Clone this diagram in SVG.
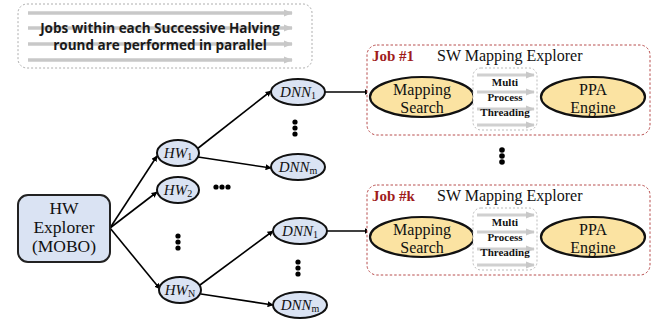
<svg xmlns="http://www.w3.org/2000/svg" width="667" height="322" viewBox="0 0 667 322">
  <defs>
    <marker id="arr" viewBox="0 0 10 10" refX="9" refY="5" markerWidth="6" markerHeight="6" markerUnits="userSpaceOnUse" orient="auto">
      <path d="M0,0 L10,5 L0,10 z" fill="#000"/>
    </marker>
    <marker id="garr" viewBox="0 0 10 10" refX="9" refY="5" markerWidth="9" markerHeight="9" markerUnits="userSpaceOnUse" orient="auto">
      <path d="M0,1 L10,5 L0,9 z" fill="#c8c8c8"/>
    </marker>
  </defs>
  <style>
    .note { fill: #fff; stroke: #999; stroke-width: 0.8; stroke-dasharray: 2 2; }
    .garrow { stroke: #c8c8c8; stroke-width: 3.5; marker-end: url(#garr); }
    .notetxt { font-family: "Open Sans", "Liberation Sans", sans-serif; font-weight: bold; font-size: 13.5px; fill: #1a1a1a; text-anchor: middle; }
    .hwbox { fill: #dae3f3; stroke: #222; stroke-width: 2; }
    .serif { font-family: "Liberation Serif", "DejaVu Serif", serif; fill: #111; text-anchor: middle; font-size: 17.5px; }
    .node { fill: #dae3f3; stroke: #111; stroke-width: 2; }
    .math { font-family: "Liberation Serif", "DejaVu Serif", serif; font-style: italic; font-size: 15px; fill: #111; text-anchor: middle; }
    .sub { font-style: normal; font-size: 10px; }
    .edge { stroke: #000; stroke-width: 1.6; fill: none; marker-end: url(#arr); }
    .job { fill: #fff; stroke: #b03a3a; stroke-width: 0.9; stroke-dasharray: 2.5 2; }
    .jobid { font-family: "Liberation Serif", serif; font-weight: bold; font-size: 15px; fill: #a01c1c; }
    .title { font-family: "Liberation Serif", serif; font-size: 16px; fill: #111; }
    .gold { fill: #fbe3a2; stroke: #111; stroke-width: 2.2; }
    .big { font-family: "Liberation Serif", serif; font-size: 16px; fill: #111; text-anchor: middle; }
    .mpt { fill: #fff; stroke: #aaa; stroke-width: 0.8; stroke-dasharray: 2 2; }
    .marrow { stroke: #d0d0d0; stroke-width: 3; marker-end: url(#garr); }
    .mtxt { font-family: "Liberation Serif", serif; font-weight: bold; font-size: 11px; fill: #111; text-anchor: middle; }
    .dot { fill: #000; }
  </style>

  <!-- legend note: parallel jobs -->
  <g id="note">
    <rect class="note" x="18" y="4" width="294" height="64" rx="9"/>
    <line class="garrow" x1="28" y1="13" x2="292" y2="13"/>
    <line class="garrow" x1="28" y1="28" x2="292" y2="28"/>
    <line class="garrow" x1="28" y1="44" x2="292" y2="44"/>
    <line class="garrow" x1="28" y1="60" x2="292" y2="60"/>
    <text class="notetxt" x="160" y="33">Jobs within each Successive Halving</text>
    <text class="notetxt" x="160" y="50">round are performed in parallel</text>
  </g>

  <!-- connectors -->
  <g id="connectors">
    <line class="edge" x1="110" y1="228" x2="157" y2="156"/>
    <line class="edge" x1="110" y1="228" x2="157" y2="192"/>
    <line class="edge" x1="110" y1="228" x2="160" y2="289"/>
    <line class="edge" x1="197" y1="149" x2="271" y2="91"/>
    <line class="edge" x1="198" y1="157" x2="271" y2="168"/>
    <line class="edge" x1="200" y1="285" x2="273" y2="231"/>
    <line class="edge" x1="201" y1="294" x2="273" y2="305"/>
    <line class="edge" x1="325" y1="92" x2="370" y2="92"/>
    <line class="edge" x1="327" y1="231" x2="370" y2="231"/>
  </g>

  <g id="hw-explorer">
    <rect class="hwbox" x="18" y="195" width="92" height="67" rx="10"/>
    <text class="serif" x="64" y="214">HW</text>
    <text class="serif" x="64" y="233">Explorer</text>
    <text class="serif" x="64" y="252">(MOBO)</text>
  </g>

  <g id="hw1">
    <ellipse class="node" cx="178" cy="153" rx="21" ry="13"/>
    <text class="math" x="178" y="158">HW<tspan class="sub" dy="2">1</tspan></text>
  </g>
  <g id="hw2">
    <ellipse class="node" cx="178" cy="190" rx="21" ry="13"/>
    <text class="math" x="178" y="195">HW<tspan class="sub" dy="2">2</tspan></text>
  </g>
  <g id="hwN">
    <ellipse class="node" cx="180" cy="290" rx="21" ry="13"/>
    <text class="math" x="180" y="295">HW<tspan class="sub" dy="2" font-style="italic">N</tspan></text>
  </g>

  <g id="dnn1-a">
    <ellipse class="node" cx="298" cy="92" rx="27" ry="13"/>
    <text class="math" x="298" y="97">DNN<tspan class="sub" dy="2">1</tspan></text>
  </g>
  <g id="dnnm-a">
    <ellipse class="node" cx="298" cy="167" rx="27" ry="13"/>
    <text class="math" x="298" y="172">DNN<tspan class="sub" dy="2" font-style="italic">m</tspan></text>
  </g>
  <g id="dnn1-b">
    <ellipse class="node" cx="300" cy="231" rx="27" ry="13"/>
    <text class="math" x="300" y="236">DNN<tspan class="sub" dy="2">1</tspan></text>
  </g>
  <g id="dnnm-b">
    <ellipse class="node" cx="300" cy="305" rx="27" ry="13"/>
    <text class="math" x="300" y="310">DNN<tspan class="sub" dy="2" font-style="italic">m</tspan></text>
  </g>

  <!-- ellipsis dots -->
  <g id="ellipses">
    <circle class="dot" cx="295" cy="122" r="2.6"/>
    <circle class="dot" cx="295" cy="128" r="2.6"/>
    <circle class="dot" cx="295" cy="134" r="2.6"/>
    <circle class="dot" cx="216" cy="187" r="2.6"/>
    <circle class="dot" cx="222" cy="187" r="2.6"/>
    <circle class="dot" cx="228" cy="187" r="2.6"/>
    <circle class="dot" cx="178" cy="236" r="2.6"/>
    <circle class="dot" cx="178" cy="242" r="2.6"/>
    <circle class="dot" cx="178" cy="248" r="2.6"/>
    <circle class="dot" cx="298" cy="262" r="2.6"/>
    <circle class="dot" cx="298" cy="268" r="2.6"/>
    <circle class="dot" cx="298" cy="274" r="2.6"/>
    <circle class="dot" cx="502" cy="150" r="2.8"/>
    <circle class="dot" cx="502" cy="156" r="2.8"/>
    <circle class="dot" cx="502" cy="162" r="2.8"/>
  </g>

  <!-- job #1 -->
  <g id="job-1">
    <rect class="job" x="367" y="45" width="283" height="90" rx="10"/>
    <text class="jobid" x="372" y="61">Job #1</text>
    <text class="title" x="437" y="61">SW Mapping Explorer</text>
    <ellipse class="gold" cx="422" cy="97" rx="52" ry="20"/>
    <text class="big" x="422" y="95">Mapping</text>
    <text class="big" x="422" y="113">Search</text>
    <rect class="mpt" x="473" y="68" width="64" height="62" rx="8"/>
    <line class="marrow" x1="477" y1="75" x2="534" y2="75"/>
    <line class="marrow" x1="477" y1="92" x2="534" y2="92"/>
    <line class="marrow" x1="477" y1="109" x2="534" y2="109"/>
    <line class="marrow" x1="477" y1="125" x2="534" y2="125"/>
    <text class="mtxt" x="505" y="86">Multi</text>
    <text class="mtxt" x="505" y="101">Process</text>
    <text class="mtxt" x="505" y="116">Threading</text>
    <ellipse class="gold" cx="593" cy="97" rx="52" ry="20"/>
    <text class="big" x="593" y="95">PPA</text>
    <text class="big" x="593" y="113">Engine</text>
  </g>

  <!-- job #k -->
  <g id="job-k">
    <rect class="job" x="367" y="185" width="283" height="90" rx="10"/>
    <text class="jobid" x="372" y="201">Job #k</text>
    <text class="title" x="437" y="201">SW Mapping Explorer</text>
    <ellipse class="gold" cx="422" cy="237" rx="52" ry="20"/>
    <text class="big" x="422" y="235">Mapping</text>
    <text class="big" x="422" y="253">Search</text>
    <rect class="mpt" x="473" y="208" width="64" height="62" rx="8"/>
    <line class="marrow" x1="477" y1="215" x2="534" y2="215"/>
    <line class="marrow" x1="477" y1="232" x2="534" y2="232"/>
    <line class="marrow" x1="477" y1="249" x2="534" y2="249"/>
    <line class="marrow" x1="477" y1="265" x2="534" y2="265"/>
    <text class="mtxt" x="505" y="226">Multi</text>
    <text class="mtxt" x="505" y="241">Process</text>
    <text class="mtxt" x="505" y="256">Threading</text>
    <ellipse class="gold" cx="593" cy="237" rx="52" ry="20"/>
    <text class="big" x="593" y="235">PPA</text>
    <text class="big" x="593" y="253">Engine</text>
  </g>
</svg>
